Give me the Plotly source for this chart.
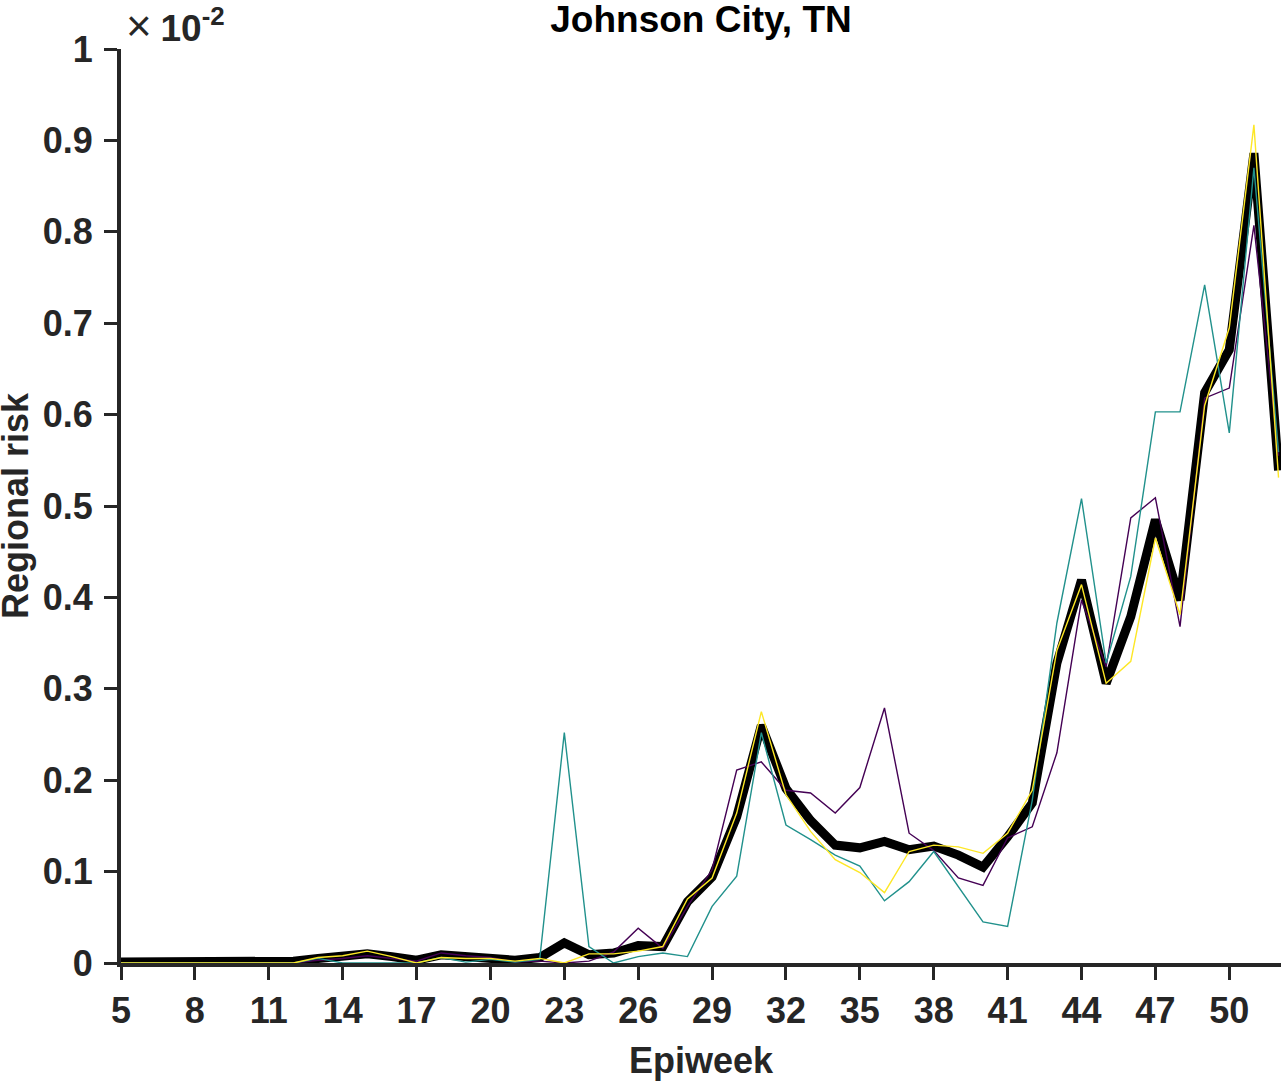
import plotly.graph_objects as go

weeks = list(range(5, 53))
x_ticks = [5, 8, 11, 14, 17, 20, 23, 26, 29, 32, 35, 38, 41, 44, 47, 50]
y_ticks = [0, 0.1, 0.2, 0.3, 0.4, 0.5, 0.6, 0.7, 0.8, 0.9, 1]
y_tick_text = ["0", "0.1", "0.2", "0.3", "0.4", "0.5", "0.6", "0.7", "0.8", "0.9", "1"]

# values in units of 1e-2
mean_risk = [0.001, 0.001, 0.001, 0.001, 0.001, 0.001, 0.001, 0.002,
             0.005, 0.007, 0.010, 0.007, 0.003, 0.009, 0.007, 0.006, 0.003, 0.006, 0.022, 0.009,
             0.011, 0.019, 0.018, 0.067, 0.094, 0.160, 0.260, 0.191, 0.156, 0.129, 0.126, 0.133,
             0.124, 0.128, 0.118, 0.105, 0.138, 0.175, 0.328, 0.419, 0.306, 0.379, 0.485, 0.397,
             0.624, 0.671, 0.886, 0.539]
purple_risk = [0, 0, 0, 0, 0, 0, 0, 0,
               0.003, 0.005, 0.008, 0.005, 0.002, 0.011, 0.008, 0.006, 0.001, 0.002, 0.0, 0.002,
               0.012, 0.038, 0.016, 0.062, 0.102, 0.211, 0.220, 0.189, 0.186, 0.164, 0.192, 0.279,
               0.142, 0.123, 0.093, 0.085, 0.137, 0.149, 0.230, 0.397, 0.324, 0.487, 0.509, 0.368,
               0.618, 0.629, 0.807, 0.555]
teal_risk = [0, 0, 0, 0, 0, 0, 0, 0,
             0.005, 0.0, 0.0, 0.0, 0.0, 0.006, 0.001, 0.004, 0.001, 0.004, 0.252, 0.018,
             0.0, 0.007, 0.011, 0.007, 0.062, 0.095, 0.252, 0.151, 0.135, 0.118, 0.106, 0.068,
             0.089, 0.122, 0.083, 0.045, 0.040, 0.178, 0.372, 0.508, 0.328, 0.423, 0.603, 0.603,
             0.742, 0.580, 0.870, 0.559]
yellow_risk = [0, 0, 0, 0, 0, 0, 0, 0,
               0.006, 0.008, 0.013, 0.007, 0.0, 0.006, 0.005, 0.005, 0.002, 0.005, 0.0, 0.010,
               0.010, 0.013, 0.018, 0.070, 0.093, 0.164, 0.275, 0.184, 0.144, 0.113, 0.099, 0.077,
               0.122, 0.129, 0.127, 0.120, 0.142, 0.189, 0.342, 0.414, 0.306, 0.330, 0.465, 0.381,
               0.610, 0.695, 0.917, 0.531]

fig = go.Figure()
fig.add_trace(go.Scatter(x=weeks, y=mean_risk, mode="lines",
                         line=dict(color="black", width=9), showlegend=False))
fig.add_trace(go.Scatter(x=weeks, y=purple_risk, mode="lines",
                         line=dict(color="#440154", width=1.4), showlegend=False))
fig.add_trace(go.Scatter(x=weeks, y=teal_risk, mode="lines",
                         line=dict(color="#21918c", width=1.4), showlegend=False))
fig.add_trace(go.Scatter(x=weeks, y=yellow_risk, mode="lines",
                         line=dict(color="#fde725", width=1.4), showlegend=False))

axis_color = "#262626"
font_family = "Liberation Sans, Arial, sans-serif"

fig.update_layout(
    width=1288, height=1083,
    margin=dict(l=121, r=7, t=49, b=120, autoexpand=False),
    plot_bgcolor="white", paper_bgcolor="white",
    font=dict(family=font_family, size=36, color=axis_color, weight="bold"),
    title=dict(text="Johnson City, TN", xref="paper", x=0.5, xanchor="center",
               yref="container", y=0.982, yanchor="middle",
               font=dict(family=font_family, size=37, color="black", weight="bold")),
    xaxis=dict(range=[5, 52.1], tickvals=x_ticks, showgrid=False, zeroline=False,
               showline=True, linecolor=axis_color, linewidth=4, automargin=False,
               ticks="outside", ticklen=13, tickwidth=3, tickcolor=axis_color,
               layer="below traces"),
    yaxis=dict(range=[0, 1], tickvals=y_ticks, ticktext=y_tick_text, showgrid=False,
               zeroline=False, showline=True, linecolor=axis_color, linewidth=4,
               automargin=False,
               ticks="outside", ticklen=13, tickwidth=3, tickcolor=axis_color,
               layer="below traces", ticklabelstandoff=4),
    annotations=[
        dict(text="<span style='font-weight:normal;font-size:44px'>×\u2009</span>10<sup>-2</sup>",
             xref="paper", yref="paper", x=0, y=1, xanchor="left", yanchor="bottom",
             xshift=3, yshift=-3, showarrow=False,
             font=dict(family=font_family, size=37, color=axis_color, weight="bold")),
        dict(text="Epiweek", xref="paper", yref="paper", x=0.5, y=0,
             xanchor="center", yanchor="middle", yshift=-97, showarrow=False,
             font=dict(family=font_family, size=36, color=axis_color, weight="bold")),
        dict(text="Regional risk", xref="paper", yref="paper", x=0, y=0.5,
             xanchor="center", yanchor="middle", xshift=-106, textangle=-90, showarrow=False,
             font=dict(family=font_family, size=36, color=axis_color, weight="bold")),
    ],
)

fig.write_html("out.html", post_script="document.body.style.margin='0px';",
               config={"displayModeBar": False})
